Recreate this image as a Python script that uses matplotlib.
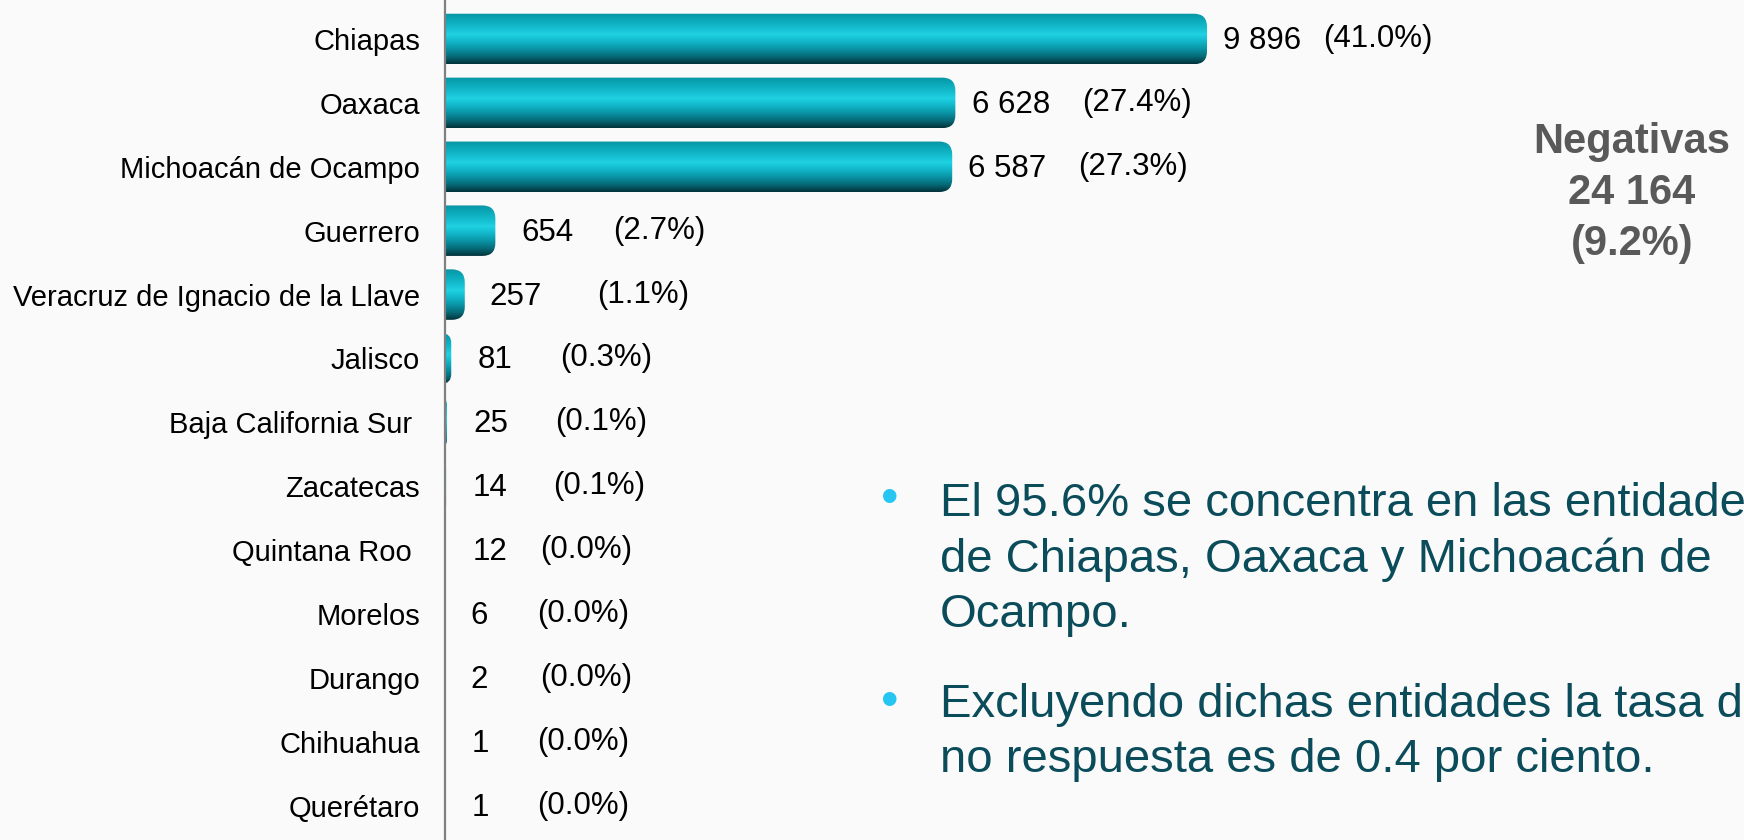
import matplotlib
matplotlib.use("Agg")

import matplotlib.pyplot as plt
import numpy as np
from matplotlib.colors import LinearSegmentedColormap
from matplotlib.patches import FancyBboxPatch

# datos
estados = [
    "Chiapas", "Oaxaca", "Michoacán de Ocampo", "Guerrero",
    "Veracruz de Ignacio de la Llave", "Jalisco", "Baja California Sur ",
    "Zacatecas", "Quintana Roo ", "Morelos", "Durango", "Chihuahua", "Querétaro",
]
negativas = [9896, 6628, 6587, 654, 257, 81, 25, 14, 12, 6, 2, 1, 1]
porcentajes = [41.0, 27.4, 27.3, 2.7, 1.1, 0.3, 0.1, 0.1, 0.0, 0.0, 0.0, 0.0, 0.0]
total_negativas = 24164
total_pct = 9.2

# desplazamiento de etiquetas (pixeles desde el final de la barra)
off_valor = [16, 17, 16, 26, 25, 26, 26, 27, 27, 25, 25, 27, 27]
off_pct = [116, 127, 126, 118, 132, 109, 108, 107, 94, 92, 95, 92, 92]

plt.rcParams["font.family"] = ["Liberation Sans", "DejaVu Sans"]

W, H = 1744, 840
fig = plt.figure(figsize=(W / 100, H / 100), dpi=100, facecolor="#fafafa")
x_eje = 445
ax = fig.add_axes([x_eje / W, 0, (W - x_eje) / W, 1])
ax.set_facecolor("none")

xmax = max(negativas) * (W - x_eje) / (1207 - x_eje)
ytop, ybot = -0.61, 12.535
ax.set_xlim(0, xmax)
ax.set_ylim(ybot, ytop)

y = np.arange(len(estados))
barras = ax.barh(y, negativas, height=0.79, color="none")

cmap = LinearSegmentedColormap.from_list("barra", [
    (0.0, "#0994a3"), (0.12, "#0aa6b6"), (0.28, "#14bccd"), (0.42, "#1fd2e4"),
    (0.55, "#12b8ca"), (0.68, "#0a9aab"), (0.85, "#066b78"), (1.0, "#03323a"),
])
grad = np.linspace(0, 1, 256).reshape(-1, 1)

ux = xmax / (W - x_eje)
uy = (ybot - ytop) / H
rx = 13 * ux
for rect in barras:
    x0, y0 = rect.get_x(), rect.get_y()
    w, h = rect.get_width(), rect.get_height()
    dr = min(rx, (w + rx) / 2)
    patch = FancyBboxPatch((x0 - rx, y0), w + rx, h,
                           boxstyle=f"round,pad=0,rounding_size={dr}",
                           mutation_aspect=uy / ux, facecolor="none",
                           edgecolor="none")
    ax.add_patch(patch)
    im = ax.imshow(grad, cmap=cmap, aspect="auto", origin="upper",
                   extent=(x0 - rx, x0 + w, y0 + h, y0), zorder=2)
    im.set_clip_path(patch)

ax.set_xlim(0, xmax)
ax.set_ylim(ybot, ytop)

for i, (v, p) in enumerate(zip(negativas, porcentajes)):
    ax.annotate(f"{v:,}".replace(",", " "), xy=(v, i), xytext=(off_valor[i], -2),
                textcoords="offset pixels", ha="left", va="center",
                fontsize=22.5, color="black", annotation_clip=False)
    ax.annotate(f"({p:.1f}%)", xy=(v, i), xytext=(off_pct[i], 0),
                textcoords="offset pixels", ha="left", va="center",
                fontsize=22.5, color="black", annotation_clip=False)

ax.set_yticks(y)
ax.set_yticklabels(estados, fontsize=21, color="black")
ax.tick_params(axis="y", length=0, pad=18)
ax.set_xticks([])
for lado in ["top", "right", "bottom"]:
    ax.spines[lado].set_visible(False)
ax.spines["left"].set_color("#808080")
ax.spines["left"].set_linewidth(1.6)

fig.text(1632 / W, 1 - 193 / H,
         f"Negativas\n{total_negativas:,}\n({total_pct}%)".replace(",", " "),
         ha="center", va="center", fontsize=30, fontweight="bold",
         color="#595959", linespacing=1.37)

# texto de viñetas
color_texto = "#0b4c5b"
color_vineta = "#27c6f2"
fig.text(940 / W, 1 - 482 / H,
         "El 95.6% se concentra en las entidades\nde Chiapas, Oaxaca y Michoacán de\nOcampo.",
         ha="left", va="top", fontsize=34, color=color_texto, linespacing=1.33)
fig.text(940 / W, 1 - 683 / H,
         "Excluyendo dichas entidades la tasa de\nno respuesta es de 0.4 por ciento.",
         ha="left", va="top", fontsize=34, color=color_texto, linespacing=1.33)
for yb in [500, 703]:
    fig.text(890 / W, 1 - yb / H, "•", ha="center", va="center",
             fontsize=36, color=color_vineta)

fig.savefig("out.png", dpi=100, facecolor=fig.get_facecolor())
plt.close(fig)
